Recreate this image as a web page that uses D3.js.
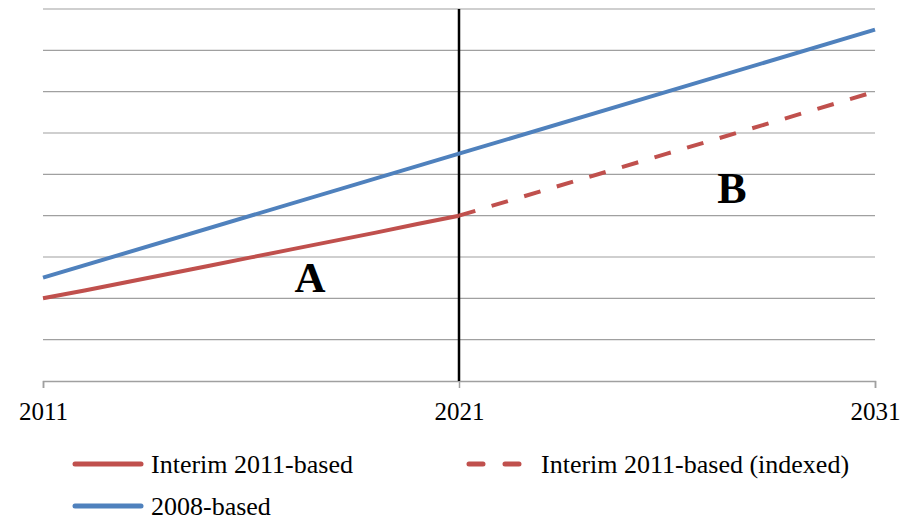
<!DOCTYPE html>
<html>
<head>
<meta charset="utf-8">
<script src="https://cdn.jsdelivr.net/npm/d3@7"></script>
<style>
  body { margin: 0; background: #fff; }
  text { font-family: "Liberation Serif", "Times New Roman", serif; fill: #000; }
</style>
</head>
<body>
<script>
// values (no y labels in the original, units are gridlines)
var interimYears = [2011, 2012, 2013, 2014, 2015, 2016, 2017, 2018, 2019, 2020, 2021];
var interimValues = [2.0, 2.19, 2.39, 2.59, 2.79, 2.99, 3.19, 3.39, 3.59, 3.8, 4.0];
var indexedYears = [2021, 2026, 2031];
var indexedValues = [4.0, 5.5, 7.0];
var basedYears = [2011, 2021, 2031];
var basedValues = [2.5, 5.5, 8.5];
var tickYears = [2011, 2021, 2031];
var gridValues = [1, 2, 3, 4, 5, 6, 7, 8, 9];

var w = 910;
var h = 521;
var red = "#C0504D";
var blue = "#4F81BD";

var svg = d3.select("body").append("svg").attr("width", w).attr("height", h);

var xScale = d3.scaleLinear().domain([2011, 2031]).range([43, 875]);
var yScale = d3.scaleLinear().domain([0, 9]).range([381, 9]);

// gridlines
svg.selectAll("line.grid")
    .data(gridValues)
    .enter()
    .append("line")
    .attr("class", "grid")
    .attr("x1", xScale(2011))
    .attr("x2", xScale(2031))
    .attr("y1", (d) => yScale(d))
    .attr("y2", (d) => yScale(d))
    .attr("stroke", "#a0a0a0")
    .attr("stroke-width", 1.2);

// x axis
var xAxis = d3.axisBottom(xScale)
    .tickValues(tickYears)
    .tickFormat(d3.format("d"))
    .tickSize(7)
    .tickPadding(14);

var axisG = svg.append("g")
    .attr("transform", "translate(0," + yScale(0) + ")")
    .call(xAxis);
axisG.select(".domain").attr("stroke", "#a0a0a0").attr("stroke-width", 1.5);
axisG.selectAll(".tick line").attr("stroke", "#a0a0a0").attr("stroke-width", 1.5);
axisG.selectAll(".tick text")
    .style("font-family", "'Liberation Serif', 'Times New Roman', serif")
    .style("font-size", "25px")
    .attr("fill", "#000");

// vertical divider at 2021
svg.append("line")
    .attr("x1", xScale(2021))
    .attr("x2", xScale(2021))
    .attr("y1", yScale(9))
    .attr("y2", yScale(0))
    .attr("stroke", "#000")
    .attr("stroke-width", 2.5);

var line = d3.line()
    .x((d) => xScale(d[0]))
    .y((d) => yScale(d[1]));

svg.append("path")
    .datum(d3.zip(basedYears, basedValues))
    .attr("d", line)
    .attr("fill", "none")
    .attr("stroke", blue)
    .attr("stroke-width", 4);

svg.append("path")
    .datum(d3.zip(interimYears, interimValues))
    .attr("d", line)
    .attr("fill", "none")
    .attr("stroke", red)
    .attr("stroke-width", 4);

svg.append("path")
    .datum(d3.zip(indexedYears, indexedValues))
    .attr("d", line)
    .attr("fill", "none")
    .attr("stroke", red)
    .attr("stroke-width", 4)
    .attr("stroke-dasharray", "17,17");

// A / B labels
svg.append("text")
    .text("A")
    .attr("x", 310)
    .attr("y", 292)
    .attr("text-anchor", "middle")
    .attr("font-size", "43px")
    .attr("font-weight", "bold");

svg.append("text")
    .text("B")
    .attr("x", 732)
    .attr("y", 203)
    .attr("text-anchor", "middle")
    .attr("font-size", "44px")
    .attr("font-weight", "bold");

// legend
var legend = [
    { name: "Interim 2011-based", color: red, dash: null, x: 75, y: 464 },
    { name: "Interim 2011-based (indexed)", color: red, dash: "14,22", x: 469, y: 464 },
    { name: "2008-based", color: blue, dash: null, x: 75, y: 506 }
];

var lg = svg.selectAll("g.legend")
    .data(legend)
    .enter()
    .append("g")
    .attr("class", "legend");

lg.append("line")
    .attr("x1", (d) => d.x)
    .attr("x2", (d) => d.x + (d.dash ? 50 : 66))
    .attr("y1", (d) => d.y)
    .attr("y2", (d) => d.y)
    .attr("stroke", (d) => d.color)
    .attr("stroke-width", 5)
    .attr("stroke-linecap", "round")
    .attr("stroke-dasharray", (d) => d.dash);

lg.append("text")
    .text((d) => d.name)
    .attr("x", (d) => d.dash ? 541 : 151)
    .attr("y", (d) => d.y + 9)
    .style("font-size", "26px");
</script>
</body>
</html>
